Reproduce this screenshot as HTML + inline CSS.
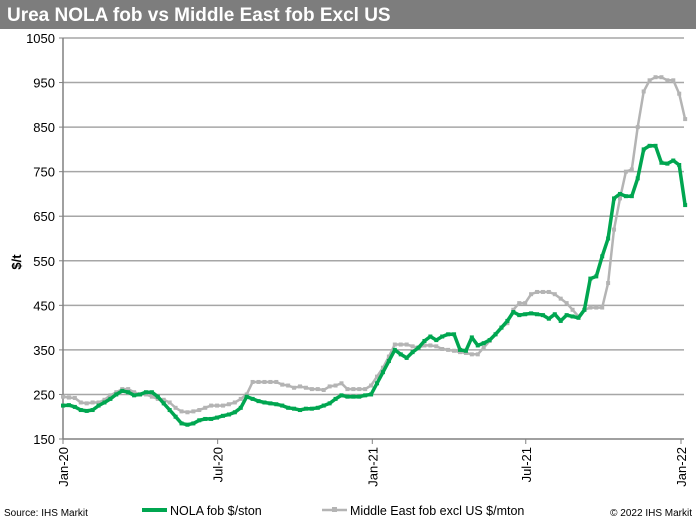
<!DOCTYPE html>
<html><head><meta charset="utf-8"><style>
body{margin:0;width:696px;height:522px;background:#fff;font-family:"Liberation Sans",Arial,sans-serif;overflow:hidden}
</style></head><body>
<svg width="696" height="522" xmlns="http://www.w3.org/2000/svg">
<rect x="0" y="0" width="696" height="29" fill="#7d7d7d"/>
<text x="7" y="21" font-size="19" font-weight="bold" fill="#fff">Urea NOLA fob vs Middle East fob Excl US</text>
<g id="grid"></g><g id="axes"></g><g id="series"></g>
<text transform="translate(21,262) rotate(-90)" text-anchor="middle" font-size="13" font-weight="bold" fill="#000">$/t</text>
<text x="4" y="516" font-size="10" fill="#000">Source: IHS Markit</text>
<text x="692" y="516" text-anchor="end" font-size="10" fill="#000">© 2022 IHS Markit</text>
<g>
<line x1="142" y1="510" x2="167" y2="510" stroke="#00a650" stroke-width="4"/>
<text x="170" y="515" font-size="12.5" fill="#000">NOLA fob $/ston</text>
<line x1="322" y1="510" x2="347" y2="510" stroke="#b4b4b4" stroke-width="2.5"/>
<rect x="332" y="507" width="5" height="5" fill="#b4b4b4"/>
<text x="350" y="515" font-size="12.5" fill="#000">Middle East fob excl US $/mton</text>
</g>
</svg>
<script>
const yTicks=[150,250,350,450,550,650,750,850,950,1050];
const xLabels=["Jan-20","Jul-20","Jan-21","Jul-21","Jan-22"];
const xLabelWeeks=[0,26.1,52.2,78.1,104.3];
const nola=[225,226,222,215,213,215,225,232,240,250,258,255,248,250,255,255,245,230,215,200,185,182,185,192,195,195,198,202,205,210,220,245,240,235,232,230,228,225,220,218,215,218,218,220,225,230,240,248,245,245,245,248,250,275,300,325,350,340,332,345,355,370,380,372,380,385,385,350,348,378,360,365,372,385,400,415,435,428,430,432,430,428,420,430,415,428,425,422,440,510,515,560,600,690,700,695,695,735,800,808,808,770,768,775,765,675];
const middleEast=[245,243,242,232,230,232,232,238,248,255,262,262,255,250,250,245,240,238,232,220,212,210,212,215,220,225,225,225,228,232,240,250,278,278,278,278,278,272,270,265,268,265,262,262,260,268,270,275,262,262,262,262,270,290,310,335,362,362,362,358,355,360,360,358,352,350,348,345,343,340,340,355,370,385,400,410,440,455,455,475,480,480,480,475,465,455,440,425,440,445,445,445,500,620,690,750,755,850,930,955,962,962,955,955,925,868];
const NS="http://www.w3.org/2000/svg";
const X0=63,X1=681,Y0=439,Y1=38;
const xs=w=>X0+w/104.3*(X1-X0);
const ys=v=>Y0-(v-150)/900*(Y0-Y1);
function mk(tag,attrs,parent){const e=document.createElementNS(NS,tag);for(const k in attrs)e.setAttribute(k,attrs[k]);parent.appendChild(e);return e;}
const grid=document.getElementById('grid'),axes=document.getElementById('axes'),series=document.getElementById('series');
yTicks.forEach(t=>{
  const y=ys(t);
  if(t>150){const g=mk('line',{x1:X0,x2:684,y1:y,y2:y,stroke:'#a6a6a6','stroke-width':1.5},grid);
  
  }
  const tk=mk('line',{x1:X0-4,x2:X0,y1:y,y2:y,stroke:'#808080'},axes);
  
  
  const tx=mk('text',{x:X0-8,y:y+5,'text-anchor':'end','font-size':13,fill:'#000'},axes);
  tx.textContent=t;
  
  
});
const ax=mk('line',{x1:X0,x2:X0,y1:Y1,y2:Y0,stroke:'#808080','stroke-width':1.5},axes);


const bx=mk('line',{x1:X0,x2:684,y1:Y0,y2:Y0,stroke:'#808080','stroke-width':1.5},axes);


xLabels.forEach((l,i)=>{
  const x=xs(xLabelWeeks[i]);
  const tk=mk('line',{x1:x,x2:x,y1:Y0,y2:Y0+5,stroke:'#808080'},axes);
  
  
  const tx=mk('text',{transform:`translate(${x+5},${Y0+8}) rotate(-90)`,'text-anchor':'end','font-size':13,fill:'#000'},axes);
  tx.textContent=l;
  
  
});
function draw(arr,color,w,name,marker){
  const pts=arr.map((v,i)=>xs(i).toFixed(1)+','+ys(v).toFixed(1)).join(' ');
  const p=mk('polyline',{points:pts,fill:'none',stroke:color,'stroke-width':w,'stroke-linejoin':'round'},series);
  
  
  arr.forEach((v,i)=>{
    const m=mk('rect',{x:xs(i)-marker/2,y:ys(v)-marker/2,width:marker,height:marker,fill:color},series);
    
    
  });
}
draw(middleEast,'#b4b4b4',2.5,'middle-east',4);
draw(nola,'#00a650',3.5,'nola',4);
</script>
</body></html>
